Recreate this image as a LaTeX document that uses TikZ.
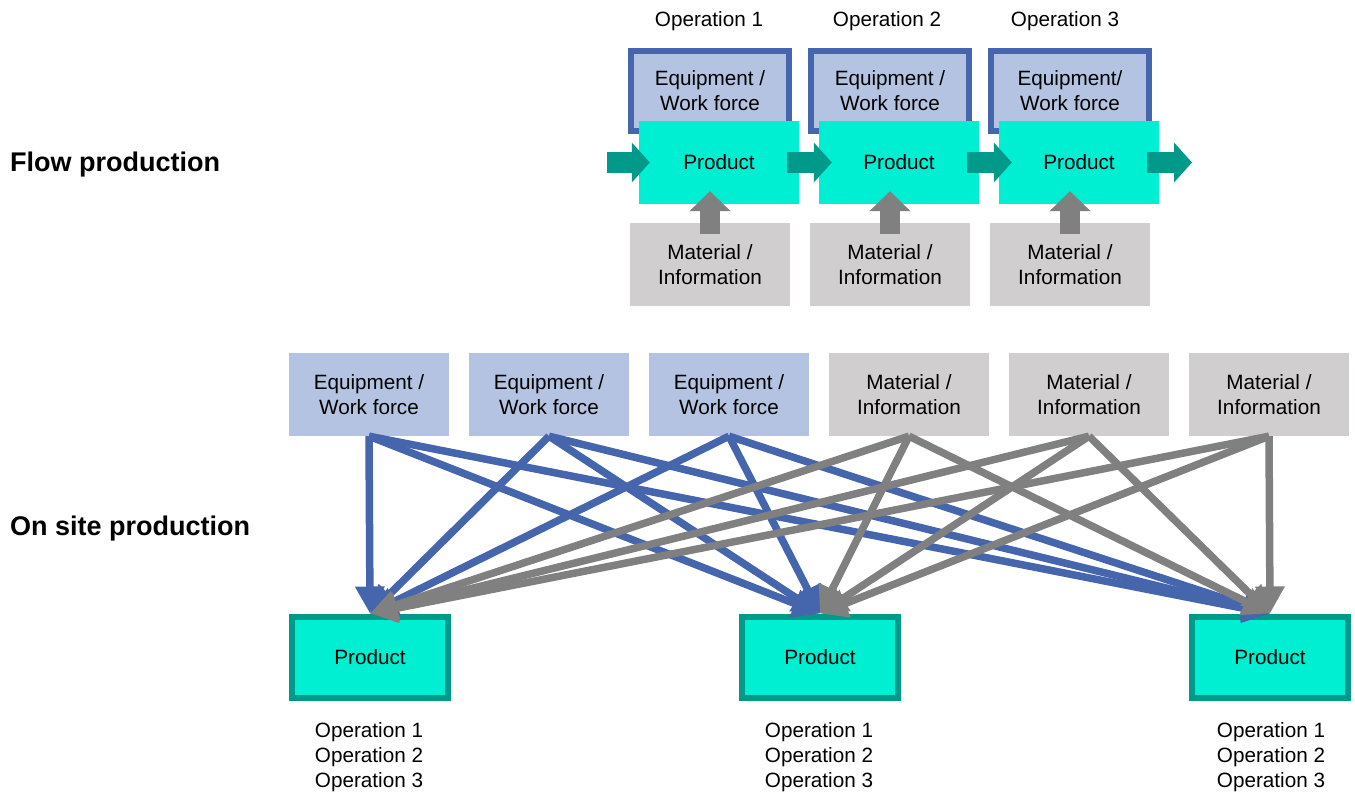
\documentclass[tikz,border=0pt]{standalone}
\usepackage{fontspec}
\setmainfont{Liberation Sans}
\usetikzlibrary{arrows.meta}
\definecolor{eqfill}{HTML}{B4C3E1}
\definecolor{eqline}{HTML}{4565AD}
\definecolor{matfill}{HTML}{D0CECE}
\definecolor{prodfill}{HTML}{00EED2}
\definecolor{prodline}{HTML}{00998A}
\definecolor{grayarr}{HTML}{808080}
\tikzset{
  txt/.style={font=\fontsize{20.7}{25}\selectfont, align=center, inner sep=0pt},
  eqtop/.style={txt, draw=eqline, line width=6.5pt, fill=eqfill, minimum width=158pt, minimum height=80pt},
  prodtop/.style={txt, fill=prodfill, minimum width=160pt, minimum height=83pt},
  matbox/.style={txt, fill=matfill, minimum width=160pt, minimum height=83pt},
  eqbox/.style={txt, fill=eqfill, minimum width=160pt, minimum height=83pt},
  prodbot/.style={txt, draw=prodline, line width=6pt, fill=prodfill, minimum width=156pt, minimum height=81pt},
  title/.style={font=\fontsize{27}{30}\selectfont\bfseries, inner sep=0pt, anchor=west},
  garrow/.style={draw=prodline, line width=21pt, -{Triangle[width=39pt,length=18pt]}, color=prodline},
  uparrow/.style={draw=grayarr, line width=20pt, -{Triangle[width=40pt,length=20pt]}, color=grayarr},
  bluelink/.style={draw=eqline, line width=7.5pt, -{Triangle[width=28pt,length=27pt]}, color=eqline},
  graylink/.style={draw=grayarr, line width=7.5pt, -{Triangle[width=28pt,length=27pt]}, color=grayarr},
}
\begin{document}
\begin{tikzpicture}[x=1pt,y=-1pt]
\useasboundingbox (0,0) rectangle (1355,792);

% titles
\node[title] (tflow) at (10,165) {Flow production};
\node[title] (tsite) at (10,529) {On site production};

% flow production
\node[txt] (op1) at (709,21) {Operation 1};
\node[txt] (op2) at (887,21) {Operation 2};
\node[txt] (op3) at (1065,21) {Operation 3};

\node[eqtop] (fe1) at (710,91) {Equipment /\\Work force};
\node[eqtop] (fe2) at (890,91) {Equipment /\\Work force};
\node[eqtop] (fe3) at (1070,91) {Equipment/\\Work force};

\node[prodtop] (fp1) at (719,162.5) {Product};
\node[prodtop] (fp2) at (899,162.5) {Product};
\node[prodtop] (fp3) at (1079,162.5) {Product};

\node[matbox] (fm1) at (710,264.5) {Material /\\Information};
\node[matbox] (fm2) at (890,264.5) {Material /\\Information};
\node[matbox] (fm3) at (1070,264.5) {Material /\\Information};

\coordinate (fin) at (607,162.5);
\coordinate (fout) at (1192,162.5);
\draw[garrow] (fin) -- ([xshift=11pt]fp1.west);
\draw[garrow] ([xshift=-12pt]fp1.east) -- ([xshift=13pt]fp2.west);
\draw[garrow] ([xshift=-12pt]fp2.east) -- ([xshift=13pt]fp3.west);
\draw[garrow] ([xshift=-12pt]fp3.east) -- (fout);

\draw[uparrow] ([yshift=-11pt]fm1.north) -- ([yshift=13pt]fm1.north |- fp1.south);
\draw[uparrow] ([yshift=-11pt]fm2.north) -- ([yshift=13pt]fm2.north |- fp2.south);
\draw[uparrow] ([yshift=-11pt]fm3.north) -- ([yshift=13pt]fm3.north |- fp3.south);

% on site production
\node[eqbox] (e1) at (369,394.5) {Equipment /\\Work force};
\node[eqbox] (e2) at (549,394.5) {Equipment /\\Work force};
\node[eqbox] (e3) at (729,394.5) {Equipment /\\Work force};
\node[matbox] (m1) at (909,394.5) {Material /\\Information};
\node[matbox] (m2) at (1089,394.5) {Material /\\Information};
\node[matbox] (m3) at (1269,394.5) {Material /\\Information};

\node[prodbot] (p1) at (370,657) {Product};
\node[prodbot] (p2) at (820,657) {Product};
\node[prodbot] (p3) at (1270,657) {Product};

\node[txt] (o1) at (369,757) {Operation 1\\Operation 2\\Operation 3};
\node[txt] (o2) at (819,757) {Operation 1\\Operation 2\\Operation 3};
\node[txt] (o3) at (1271,757) {Operation 1\\Operation 2\\Operation 3};

\foreach \s in {e1,e2,e3}
  \foreach \t in {p1,p2,p3}
    \draw[bluelink] (\s.south) -- (\t.north);
\foreach \s in {m1,m2,m3}
  \foreach \t in {p1,p2,p3}
    \draw[graylink] (\s.south) -- (\t.north);
\end{tikzpicture}
\end{document}
